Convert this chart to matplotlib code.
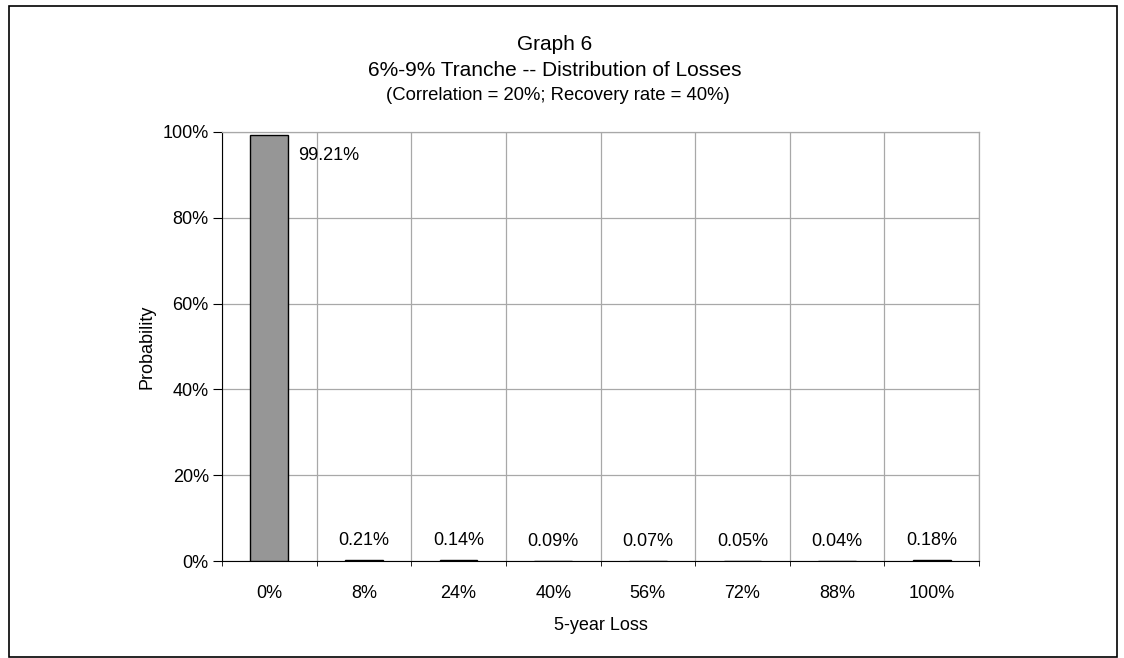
import numpy as np
import matplotlib.pyplot as plt
from matplotlib.patches import Rectangle
from matplotlib.ticker import FixedLocator, PercentFormatter

plt.rcParams['font.family'] = ['Liberation Sans', 'DejaVu Sans']

# 5-year loss buckets and their probabilities
loss_buckets = ['0%', '8%', '24%', '40%', '56%', '72%', '88%', '100%']
probability = [0.9921, 0.0021, 0.0014, 0.0009, 0.0007, 0.0005, 0.0004, 0.0018]
yticks = [0, 0.2, 0.4, 0.6, 0.8, 1.0]

W, H = 1124, 658
fig = plt.figure(figsize=(W / 100, H / 100), dpi=100)

# outer frame around the whole chart
fig.patches.append(Rectangle((9 / W, 1 - 657 / H), 1108 / W, 651 / H,
                             transform=fig.transFigure, fill=False,
                             edgecolor='black', linewidth=1.2))

ax = fig.add_axes([222 / W, 1 - 561 / H, (979 - 222) / W, (561 - 132) / H])
x = np.arange(len(loss_buckets))
ax.bar(x, probability, width=0.40, color='#969696', edgecolor='black', linewidth=1, zorder=3)

ax.set_xlim(-0.5, len(loss_buckets) - 0.5)
ax.set_ylim(0, 1)

# value labels: the tall bar gets its label to the right of its top
for i, p in enumerate(probability):
    if p > 0.5:
        ax.annotate(f'{p * 100:.2f}%', (i, p), xytext=(21, -8), textcoords='offset points',
                    ha='left', va='top', fontsize=13)
    else:
        ax.annotate(f'{p * 100:.2f}%', (i, p), xytext=(0, 8), textcoords='offset points',
                    ha='center', va='bottom', fontsize=13)

ax.set_xticks(x)
ax.set_xticklabels(loss_buckets, fontsize=13)
ax.tick_params(axis='x', which='major', length=0, pad=17)
ax.xaxis.set_minor_locator(FixedLocator(np.arange(-0.5, len(loss_buckets), 1.0)))
ax.tick_params(axis='x', which='minor', length=3.5, direction='out')

ax.set_yticks(yticks)
ax.yaxis.set_major_formatter(PercentFormatter(1.0, decimals=0))
ax.tick_params(axis='y', labelsize=13, length=6.5, direction='out', pad=3)

ax.grid(True, axis='y', color='#a8a8a8', linewidth=0.9, zorder=0)
ax.grid(True, axis='x', which='minor', color='#a8a8a8', linewidth=0.9, zorder=0)

for side in ['top', 'right']:
    ax.spines[side].set_color('#a8a8a8')
    ax.spines[side].set_linewidth(0.9)

ax.set_xlabel('5-year Loss', fontsize=13, labelpad=11)
ax.set_ylabel('Probability', fontsize=13, labelpad=5)

fig.text(555 / W, 1 - 44 / H, 'Graph 6', ha='center', va='center', fontsize=15)
fig.text(555 / W, 1 - 70 / H, '6%-9% Tranche -- Distribution of Losses', ha='center', va='center', fontsize=15)
fig.text(558 / W, 1 - 95 / H, '(Correlation = 20%; Recovery rate = 40%)', ha='center', va='center', fontsize=13.3)

fig.savefig('out.png', dpi=100)
